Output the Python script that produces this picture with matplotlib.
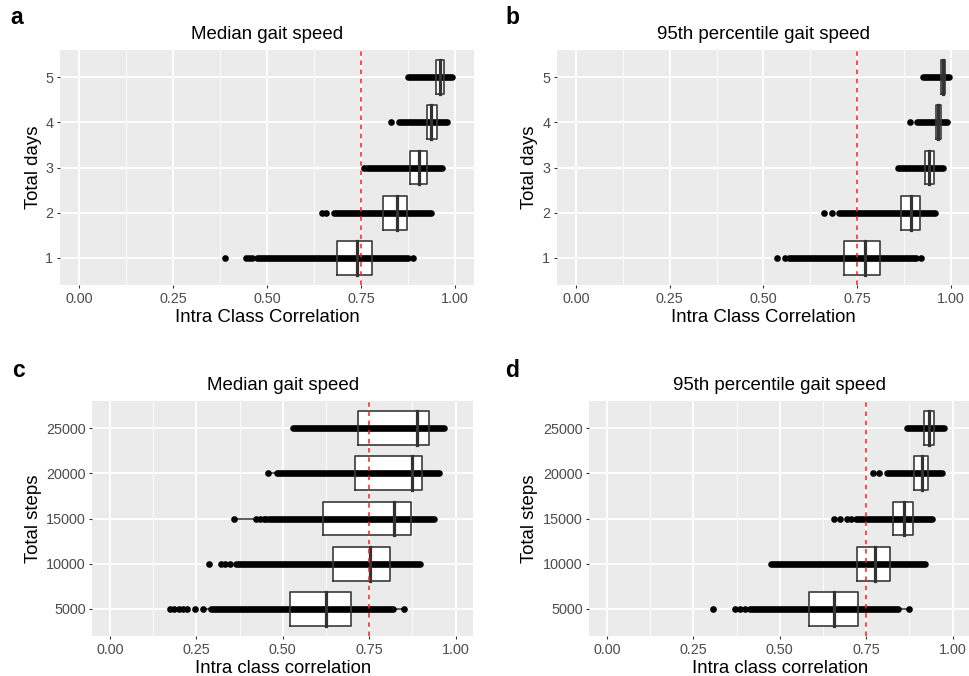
import matplotlib
matplotlib.use("Agg")
import matplotlib.pyplot as plt
import numpy as np

plt.rcParams['font.family'] = ['Liberation Sans', 'DejaVu Sans']

# ---------------- data ----------------
days_labels = ["1", "2", "3", "4", "5"]
steps_labels = ["5000", "10000", "15000", "20000", "25000"]

# Panel a: Median gait speed vs total days
a_q1 = [0.685, 0.807, 0.880, 0.924, 0.949]
a_med = [0.740, 0.845, 0.904, 0.937, 0.959]
a_q3 = [0.778, 0.873, 0.924, 0.951, 0.971]
a_dense_lo = [0.473, 0.678, 0.765, 0.851, 0.875]
a_dense_hi = [0.875, 0.935, 0.966, 0.977, 0.991]
a_iso = [[0.388, 0.444, 0.452, 0.460, 0.889], [0.647, 0.656], [0.759], [0.830], []]

# Panel b: 95th percentile gait speed vs total days
b_q1 = [0.714, 0.867, 0.930, 0.960, 0.973]
b_med = [0.770, 0.892, 0.942, 0.966, 0.979]
b_q3 = [0.810, 0.916, 0.954, 0.972, 0.984]
b_dense_lo = [0.569, 0.700, 0.858, 0.910, 0.926]
b_dense_hi = [0.907, 0.958, 0.978, 0.989, 0.995]
b_iso = [[0.535, 0.557, 0.920], [0.662, 0.683], [], [0.891], []]

# Panel c: Median gait speed vs total steps
c_q1 = [0.522, 0.645, 0.615, 0.709, 0.717]
c_med = [0.624, 0.753, 0.822, 0.873, 0.889]
c_q3 = [0.697, 0.809, 0.872, 0.903, 0.923]
c_dense_lo = [0.294, 0.366, 0.460, 0.484, 0.530]
c_dense_hi = [0.819, 0.898, 0.936, 0.951, 0.965]
c_iso = [[0.173, 0.186, 0.199, 0.212, 0.223, 0.246, 0.270, 0.850],
         [0.287, 0.321, 0.334, 0.347],
         [0.358, 0.424, 0.435, 0.445, 0.453],
         [0.458], []]

# Panel d: 95th percentile gait speed vs total steps
d_q1 = [0.586, 0.723, 0.828, 0.887, 0.916]
d_med = [0.658, 0.776, 0.860, 0.910, 0.931]
d_q3 = [0.727, 0.819, 0.885, 0.928, 0.946]
d_dense_lo = [0.419, 0.474, 0.719, 0.811, 0.867]
d_dense_hi = [0.843, 0.920, 0.939, 0.968, 0.976]
d_iso = [[0.306, 0.371, 0.385, 0.400, 0.414, 0.875],
         [],
         [0.658, 0.674, 0.694, 0.705],
         [0.771, 0.788], []]

x_ticks = [0.00, 0.25, 0.50, 0.75, 1.00]
x_ticklabels = ["0.00", "0.25", "0.50", "0.75", "1.00"]
threshold = 0.75

W, H = 970, 676
fig = plt.figure(figsize=(W / 100, H / 100), dpi=100)
fig.patch.set_facecolor("white")


def px_axes(left, right, top, bottom):
    return fig.add_axes([left / W, (H - bottom) / H, (right - left) / W, (bottom - top) / H])


def draw_panel(ax, labels, q1, med, q3, dlo, dhi, iso, title, xlabel, ylabel, ylab_x):
    ax.set_facecolor("#EBEBEB")
    for s in ax.spines.values():
        s.set_visible(False)
    ax.set_xlim(-0.05, 1.05)
    ax.set_ylim(0.4, len(labels) + 0.6)
    ax.set_xticks(x_ticks)
    ax.set_xticklabels(x_ticklabels)
    ax.set_xticks([0.125, 0.375, 0.625, 0.875], minor=True)
    ypos = np.arange(1, len(labels) + 1)
    ax.set_yticks(ypos)
    ax.set_yticklabels(labels)
    ax.grid(which="major", color="white", lw=1.3, zorder=0)
    ax.grid(which="minor", axis="x", color="white", lw=0.6, zorder=0)
    ax.set_axisbelow(True)
    ax.tick_params(which="major", length=2.2, width=0.8, color="#333333",
                   labelcolor="#4D4D4D", labelsize=10.4, pad=2.7)
    ax.tick_params(which="minor", length=0)

    hw = 0.375
    for i, y in enumerate(ypos):
        lo, hi = q1[i], q3[i]
        iqr = hi - lo
        allpts = [dlo[i], dhi[i]] + list(iso[i])
        wlo = min(p for p in allpts if p >= lo - 1.5 * iqr)
        whi = max(p for p in allpts if p <= hi + 1.5 * iqr)
        # whiskers
        ax.plot([wlo, lo], [y, y], color="#333333", lw=1.1, zorder=2)
        ax.plot([hi, whi], [y, y], color="#333333", lw=1.1, zorder=2)
        # box fill
        ax.fill_between([lo, hi], y - hw, y + hw, color="white", lw=0, zorder=2)
        # points
        ax.plot([dlo[i], dhi[i]], [y, y], color="black", lw=4.8,
                solid_capstyle="round", zorder=3)
        if iso[i]:
            ax.plot(iso[i], [y] * len(iso[i]), "o", color="black", ms=4.8,
                    mec="none", zorder=3)
        # box outline and median
        ax.plot([lo, hi, hi, lo, lo], [y - hw, y - hw, y + hw, y + hw, y - hw],
                color="#3a3a3a", lw=1.2, zorder=4)
        ax.plot([med[i], med[i]], [y - hw, y + hw], color="#333333", lw=2.3, zorder=4)

    ax.axvline(threshold, color="#FF1a1a", lw=1.1, ls=(0, (3, 3)), zorder=5)
    ax.text(0.5, 1.045, title, transform=ax.transAxes, ha="center", va="baseline",
            fontsize=13.4, color="black")
    ax.set_xlabel(xlabel, fontsize=13.4, color="black")
    ax.xaxis.set_label_coords(0.5, -0.157)
    ax.xaxis.label.set_va("baseline")
    ax.set_ylabel(ylabel, fontsize=13.4, color="black")
    ax.yaxis.set_label_coords(ylab_x, 0.5)
    ax.yaxis.label.set_va("center")


ax_a = px_axes(60, 474, 50, 285)
ax_b = px_axes(557, 970, 50, 285)
ax_c = px_axes(92.5, 473, 401, 636)
ax_d = px_axes(589.5, 970, 401, 636)

draw_panel(ax_a, days_labels, a_q1, a_med, a_q3, a_dense_lo, a_dense_hi, a_iso,
           "Median gait speed", "Intra Class Correlation", "Total days", (33 - 60) / 414)
draw_panel(ax_b, days_labels, b_q1, b_med, b_q3, b_dense_lo, b_dense_hi, b_iso,
           "95th percentile gait speed", "Intra Class Correlation", "Total days", (530 - 557) / 413)
draw_panel(ax_c, steps_labels, c_q1, c_med, c_q3, c_dense_lo, c_dense_hi, c_iso,
           "Median gait speed", "Intra class correlation", "Total steps", (33 - 92.5) / 380.5)
draw_panel(ax_d, steps_labels, d_q1, d_med, d_q3, d_dense_lo, d_dense_hi, d_iso,
           "95th percentile gait speed", "Intra class correlation", "Total steps", (530 - 589.5) / 380.5)

for lab, x, y in [("a", 10, 24), ("b", 505, 24), ("c", 12, 377), ("d", 505, 377)]:
    fig.text(x / W, (H - y) / H, lab, fontsize=16.5, fontweight="bold",
             ha="left", va="baseline")

fig.savefig("out.png", dpi=100, facecolor="white")
